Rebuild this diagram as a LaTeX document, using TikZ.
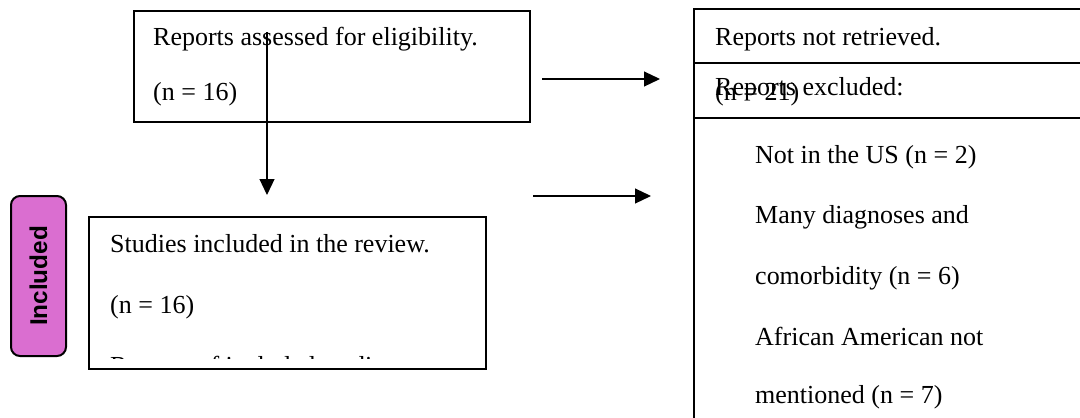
\documentclass[tikz,border=0pt]{standalone}
\usepackage{fontspec}
\setmainfont{Liberation Serif}
\newfontfamily\labelsans{Liberation Sans}
\usetikzlibrary{arrows.meta}
\definecolor{inclfill}{RGB}{218,110,208}
\begin{document}
\begin{tikzpicture}[x=1pt,y=-1pt,
  box/.style={draw=black,line width=2pt,inner sep=0pt,anchor=north west},
  txt/.style={anchor=base west,inner sep=0pt,font=\fontsize{26}{30}\selectfont},
  conn/.style={line width=1.2pt,-{Triangle[length=16pt,width=15pt]}},
  phase/.style={draw=black,line width=2pt,fill=inclfill,rounded corners=9pt,inner sep=0pt,anchor=north west}]
\useasboundingbox (0,0) rectangle (1080,418);
% boxes
\node[box,minimum width=396pt,minimum height=111pt] (A) at (133,10) {};
\node[box,minimum width=397pt,minimum height=152pt] (B) at (88,216) {};
\node[phase,minimum width=55pt,minimum height=160pt] (C) at (10,195) {};
\node[rotate=90,inner sep=0pt,font=\labelsans\bfseries\fontsize{24.3}{27}\selectfont] (Clbl) at (C.center) {Included};
% right box (runs past the edges)
\draw[line width=2pt] (1090,9) -- (694,9) -- (694,430);
\draw[line width=2pt] (694,63) -- (1090,63);
\draw[line width=2pt] (694,118) -- (1090,118);
% texts of A
\node[txt] (a1) at (153,45) {Reports assessed for eligibility.};
\node[txt] (a2) at (153,100) {(n = 16)};
% texts of B
\node[txt] (b1) at (110,252) {Studies included in the review.};
\node[txt] (b2) at (110,313) {(n = 16)};
\begin{scope}
\clip (90,218) rectangle (483,358);
\node[txt] (b3) at (110,374) {Reports of included studies};
\end{scope}
% texts of right box
\node[txt] (d1) at (715,45) {Reports not retrieved.};
\node[txt] (d2) at (715,95) {Reports excluded:};
\node[txt] (d3) at (715,100) {(n = 21)};
\node[txt] (d4) at (755,163) {Not in the US (n = 2)};
\node[txt] (d5) at (755,223) {Many diagnoses and};
\node[txt] (d6) at (755,284) {comorbidity (n = 6)};
\node[txt] (d7) at (755,345) {African American not};
\node[txt] (d8) at (755,403) {mentioned (n = 7)};
% connectors
\coordinate (v0) at (267,32);
\coordinate (v1) at (267,195);
\coordinate (h0) at (542,79);
\coordinate (h1) at (660,79);
\coordinate (g0) at (533,196);
\coordinate (g1) at (651,196);
\draw[conn] (v0) -- (v1);
\draw[conn] (h0) -- (h1);
\draw[conn] (g0) -- (g1);
\end{tikzpicture}
\end{document}
